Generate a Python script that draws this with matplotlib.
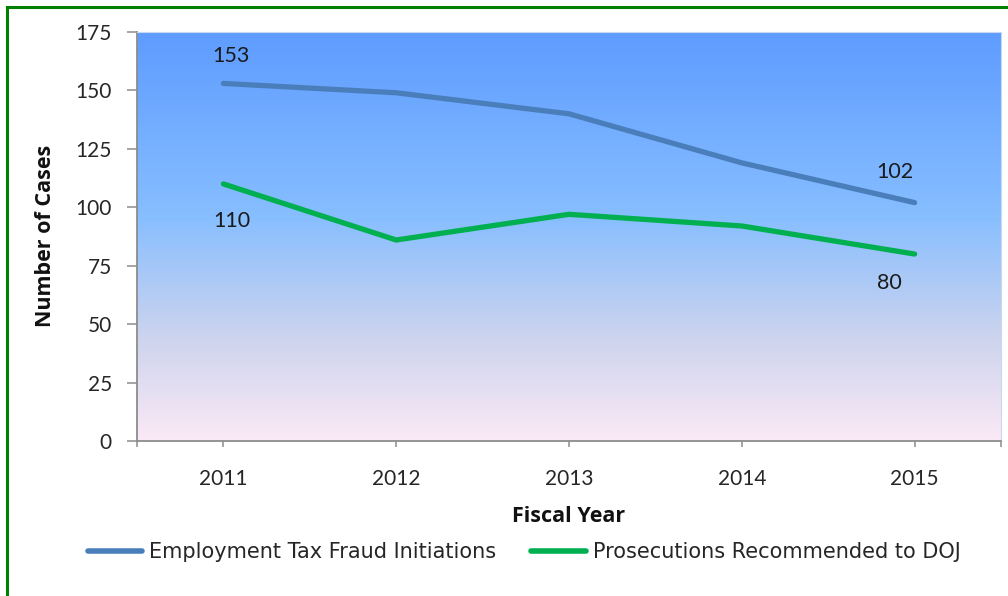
import matplotlib
matplotlib.use("Agg")
import matplotlib.pyplot as plt
import numpy as np
from matplotlib.colors import LinearSegmentedColormap
from matplotlib.patches import Rectangle
from matplotlib.lines import Line2D

years = ["2011", "2012", "2013", "2014", "2015"]
initiations = [153, 149, 140, 119, 102]
prosecutions = [110, 86, 97, 92, 80]
series_names = ["Employment Tax Fraud Initiations", "Prosecutions Recommended to DOJ"]
y_ticks = [0, 25, 50, 75, 100, 125, 150, 175]

plt.rcParams['font.family'] = ['Lato', 'DejaVu Sans']
W, H = 1008, 596
fig = plt.figure(figsize=(W / 100, H / 100), dpi=100)
fig.patch.set_facecolor('white')

ax = fig.add_axes([137 / W, 1 - 441 / H, (1001 - 137) / W, (441 - 32) / H])

x = np.arange(len(years))
xlim = (-0.5, len(years) - 0.5)
ylim = (0, 175)

# gradient background
cmap = LinearSegmentedColormap.from_list("bg", [
    (0.0, (251 / 255, 233 / 255, 246 / 255)),
    (0.25, (205 / 255, 212 / 255, 238 / 255)),
    (0.55, (135 / 255, 190 / 255, 255 / 255)),
    (1.0, (94 / 255, 156 / 255, 255 / 255)),
])
grad = np.linspace(0, 1, 256).reshape(-1, 1)
ax.imshow(grad, extent=(xlim[0], xlim[1], ylim[0], ylim[1]), origin='lower',
          aspect='auto', cmap=cmap, zorder=0)

blue = '#4A7EBB'
green = '#00B050'
ax.plot(x, initiations, color=blue, lw=3.8, solid_capstyle='round', zorder=3)
ax.plot(x, prosecutions, color=green, lw=3.8, solid_capstyle='round', zorder=3)

lab_kw = dict(textcoords='offset pixels', ha='center', va='center', fontsize=15.5, color='#1a1a1a')
ax.annotate(str(initiations[0]), (x[0], initiations[0]), xytext=(8, 27), **lab_kw)
ax.annotate(str(prosecutions[0]), (x[0], prosecutions[0]), xytext=(8, -37), **lab_kw)
ax.annotate(str(initiations[-1]), (x[-1], initiations[-1]), xytext=(-20, 31), **lab_kw)
ax.annotate(str(prosecutions[-1]), (x[-1], prosecutions[-1]), xytext=(-25, -29), **lab_kw)

ax.set_xlim(*xlim)
ax.set_ylim(*ylim)
ax.set_xticks(x)
ax.set_xticklabels(years)
ax.set_xticks([xlim[0], xlim[1]], minor=True)
ax.set_yticks(y_ticks)

for s in ['top', 'right']:
    ax.spines[s].set_color('#c8d8f0')
    ax.spines[s].set_linewidth(0.8)
for s in ['left', 'bottom']:
    ax.spines[s].set_color('#8c8c8c')
    ax.spines[s].set_linewidth(1.3)

ax.tick_params(axis='y', length=7, width=1.1, color='#8c8c8c', pad=11, labelsize=15, labelcolor='#262626')
ax.tick_params(axis='x', which='both', length=4, width=1.1, color='#8c8c8c', pad=16, labelsize=15, labelcolor='#262626')

fig.text(46 / W, 1 - 236 / H, "Number of Cases", rotation=90, ha='center', va='center',
         fontsize=15.5, fontweight='bold', color='#111111', family=['Open Sans', 'DejaVu Sans'])
fig.text(569 / W, 1 - 517 / H, "Fiscal Year", ha='center', va='center',
         fontsize=15.5, fontweight='bold', color='#111111', family=['Open Sans', 'DejaVu Sans'])

handles = [Line2D([], [], color=blue, lw=4, solid_capstyle='round'),
           Line2D([], [], color=green, lw=4, solid_capstyle='round')]
fig.legend(handles, series_names, loc='center', bbox_to_anchor=(524 / W, 1 - 552 / H),
           ncol=2, frameon=False, handlelength=2.6, handletextpad=0.34,
           columnspacing=1.7, labelcolor='#262626',
           prop={'family': ['DejaVu Sans'], 'size': 15})

# green frame around the figure
fig.patches.append(Rectangle((7 / W, -0.2), 1.2, 1 - 7 / H + 0.2, transform=fig.transFigure,
                             fill=False, edgecolor='#008000', lw=2.2, zorder=10))

fig.savefig("out.png", dpi=100)
